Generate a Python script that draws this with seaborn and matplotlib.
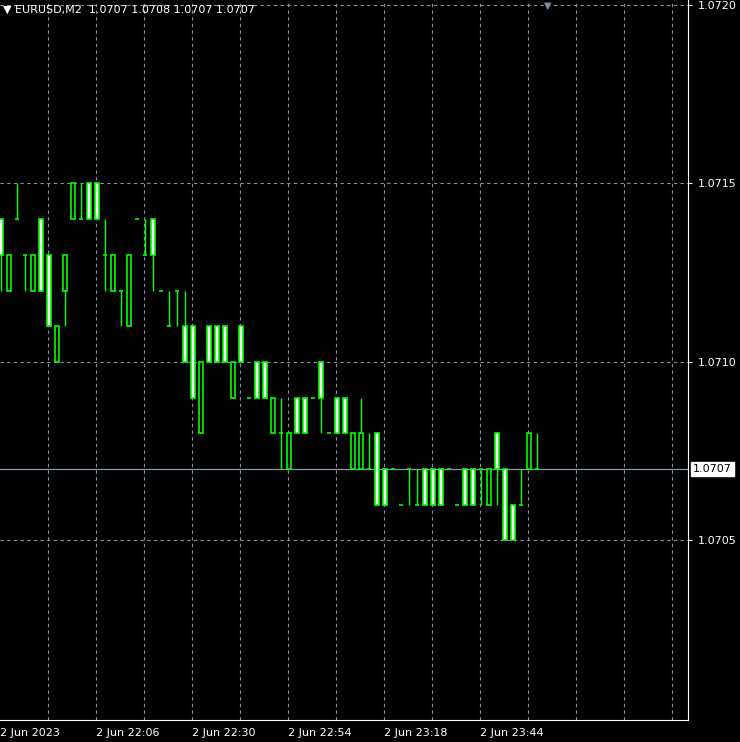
import matplotlib
matplotlib.use("Agg")
import matplotlib.pyplot as plt
import seaborn as sns
import numpy as np
import pandas as pd

# OHLC for EURUSD M2 bars (2-minute bars)
opens = [1.0714,1.0712,1.0714,1.0713,1.0712,1.0714,1.0713,1.0710,1.0712,1.0714,
         1.0714,1.0715,1.0715,1.0713,1.0712,1.0712,1.0711,1.0714,1.0713,1.0714,
         1.0712,1.0711,1.0712,1.0711,1.0711,1.0708,1.0711,1.0711,1.0711,1.0709,
         1.0711,1.0709,1.0710,1.0710,1.0708,1.0708,1.0707,1.0709,1.0709,1.0709,
         1.0710,1.0708,1.0709,1.0709,1.0707,1.0707,1.0707,1.0708,1.0707,1.0707,
         1.0706,1.0707,1.0706,1.0707,1.0707,1.0707,1.0707,1.0706,1.0707,1.0707,
         1.0707,1.0706,1.0708,1.0707,1.0706,1.0706,1.0707,1.0707]
closes = [1.0713,1.0713,1.0714,1.0713,1.0713,1.0712,1.0711,1.0711,1.0713,1.0715,
          1.0714,1.0714,1.0714,1.0713,1.0713,1.0712,1.0713,1.0714,1.0713,1.0713,
          1.0712,1.0711,1.0712,1.0710,1.0709,1.0710,1.0710,1.0710,1.0710,1.0710,
          1.0710,1.0709,1.0709,1.0709,1.0709,1.0708,1.0708,1.0708,1.0708,1.0709,
          1.0709,1.0708,1.0708,1.0708,1.0708,1.0708,1.0707,1.0706,1.0706,1.0707,
          1.0706,1.0707,1.0706,1.0706,1.0706,1.0706,1.0707,1.0706,1.0706,1.0706,
          1.0707,1.0707,1.0707,1.0705,1.0705,1.0706,1.0708,1.0707]
highs = [1.0714,1.0713,1.0715,1.0713,1.0713,1.0714,1.0713,1.0711,1.0713,1.0715,
         1.0715,1.0715,1.0715,1.0714,1.0713,1.0712,1.0713,1.0714,1.0714,1.0714,
         1.0712,1.0712,1.0712,1.0712,1.0711,1.0710,1.0711,1.0711,1.0711,1.0710,
         1.0711,1.0709,1.0710,1.0710,1.0709,1.0709,1.0708,1.0709,1.0709,1.0709,
         1.0710,1.0708,1.0709,1.0709,1.0708,1.0709,1.0708,1.0708,1.0707,1.0707,
         1.0706,1.0707,1.0707,1.0707,1.0707,1.0707,1.0707,1.0706,1.0707,1.0707,
         1.0707,1.0707,1.0708,1.0707,1.0706,1.0707,1.0708,1.0708]
lows = [1.0712,1.0712,1.0714,1.0712,1.0712,1.0712,1.0711,1.0710,1.0711,1.0714,
        1.0714,1.0714,1.0714,1.0712,1.0712,1.0711,1.0711,1.0714,1.0713,1.0712,
        1.0712,1.0711,1.0711,1.0710,1.0709,1.0708,1.0710,1.0710,1.0710,1.0709,
        1.0710,1.0709,1.0709,1.0709,1.0708,1.0707,1.0707,1.0708,1.0708,1.0709,
        1.0708,1.0708,1.0708,1.0708,1.0707,1.0707,1.0707,1.0706,1.0706,1.0707,
        1.0706,1.0706,1.0706,1.0706,1.0706,1.0706,1.0707,1.0706,1.0706,1.0706,
        1.0706,1.0706,1.0706,1.0705,1.0705,1.0706,1.0707,1.0707]
time_labels = ["2 Jun 2023", "2 Jun 22:06", "2 Jun 22:30", "2 Jun 22:54",
               "2 Jun 23:18", "2 Jun 23:44"]
price_ticks = [1.0705, 1.0710, 1.0715, 1.0720]
last_price = 1.0707
title = "EURUSD,M2  1.0707 1.0708 1.0707 1.0707"

df = pd.DataFrame({"o": opens, "h": highs, "l": lows, "c": closes})
df["i"] = np.arange(len(df))

sns.set_style("dark", {"axes.facecolor": "black", "figure.facecolor": "black"})
fig = plt.figure(figsize=(7.4, 7.42), dpi=100)
ax = fig.add_axes([0, 22/742, 688/740, 1 - 22/742])
ax.set_facecolor("black")
fig.patch.set_facecolor("black")

green = "#00ff00"
gridc = "#8a94a0"
for p in price_ticks:
    ax.axhline(p, color=gridc, lw=0.8, ls=(0, (3, 3)), zorder=0)
for gx in np.arange(5.95, 86, 6):
    ax.axvline(gx, color=gridc, lw=0.8, ls=(0, (3, 3)), zorder=0)
ax.axhline(last_price, color="#8a9ab0", lw=0.9, zorder=1)

w = 0.55
bodytop = df[["o", "c"]].max(axis=1)
bodybot = df[["o", "c"]].min(axis=1)
ax.vlines(df["i"], df["l"], df["h"], color=green, lw=1, zorder=2)
isbody = bodytop > bodybot
bear = df["c"] < df["o"]
ax.bar(df["i"][isbody], (bodytop - bodybot)[isbody], bottom=bodybot[isbody], width=w,
       color=np.where(bear[isbody], "white", "black"), edgecolor=green, lw=1.2, zorder=3)
doji = ~isbody
ax.hlines(df["o"][doji], df["i"][doji] - w / 2, df["i"][doji] + w / 2, color=green, lw=1.2, zorder=3)

ax.set_xlim(-0.1, 85.9)
ax.set_ylim(1.069997, 1.072014)
ax.grid(False)
for s in ["top", "left"]:
    ax.spines[s].set_visible(False)
for s in ["right", "bottom"]:
    ax.spines[s].set_color("white")
    ax.spines[s].set_linewidth(0.8)
ax.yaxis.tick_right()
ax.set_yticks(price_ticks)
ax.set_yticklabels([f"{p:.4f}" for p in price_ticks])
ax.tick_params(axis="y", colors="white", labelsize=8, length=3, pad=4)
ax.set_xticks(np.arange(-0.05, 70, 12))
ax.set_xticklabels(time_labels, ha="left")
ax.tick_params(axis="x", colors="white", labelsize=8, length=3, pad=3)

ax.text(1.0 + 5/688, last_price, "1.0707", transform=ax.get_yaxis_transform(),
        color="black", fontsize=8, va="center", ha="left",
        bbox=dict(boxstyle="square,pad=0.2", fc="white", ec="white"))
ax.text(0.005, 0.994, "\u25bc " + title, transform=ax.transAxes, color="white",
        fontsize=8, va="top", ha="left")
ax.text(548/688, 0.999, "\u25bc", transform=ax.transAxes, color="#8090a0",
        fontsize=7, va="top", ha="center")

fig.savefig("out.png", dpi=100, facecolor="black")
